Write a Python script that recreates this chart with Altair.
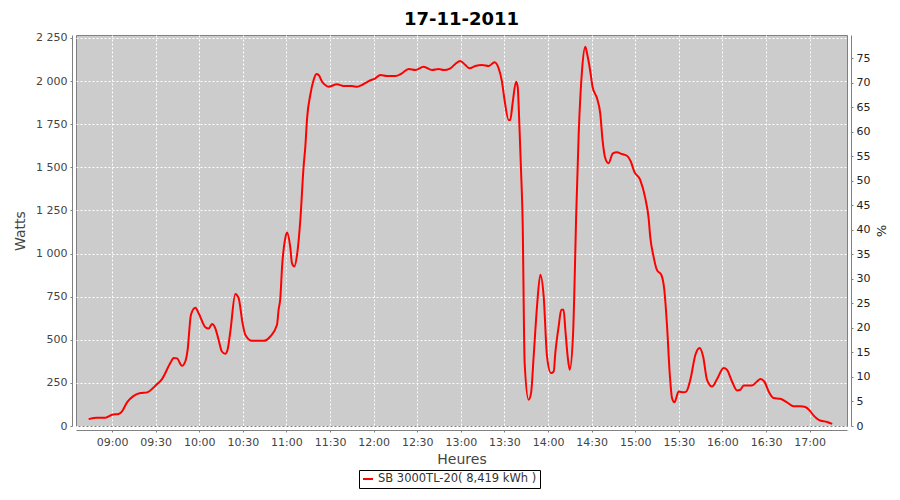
import altair as alt
import pandas as pd

# minutes after 09:00
minutes_after_9 = [
    -16.1, -10.3, -4.6, 0, 4.5, 6.9, 10.3, 14.9, 19.5, 24.1, 30, 34.4, 40.1, 42.4, 44.7,
    48.1, 50.4, 52, 54.3, 57.3, 59.6, 64.2, 66.5, 68.8, 71, 73.3, 75.6, 77.9, 79.5, 81.4,
    84.8, 87.1, 89.8, 91.7, 96.3, 104.3, 108.9, 113.5, 114.6, 115.8, 117, 119.2, 120.4,
    122.7, 123.8, 125.4, 127.3, 129.6, 131.8, 133, 134.2, 136.4, 138.7, 140.6, 142.2,
    144.5, 146.7, 149, 154.8, 159.3, 165.1, 168.6, 172, 176.6, 181.2, 184.6, 189.2, 194.9,
    199.5, 204.1, 208.7, 214.4, 220.2, 224.7, 228.2, 232.8, 236.2, 239.6, 243.1, 246,
    249.9, 254.6, 259.1, 263.2, 266, 268.3, 269.9, 272.9, 274, 275.6, 278, 279.1, 280.4,
    281.4, 282.5, 283.9, 286.6, 288.3, 290.1, 292.4, 294.7, 297, 299.3, 302, 303.9, 305,
    307.3, 309.1, 310.7, 311.9, 313.5, 314.9, 317.2, 318.3, 319.3, 321.1, 323.4, 325.6,
    326.8, 329.1, 330.6, 333.7, 335.9, 337.5, 339.4, 341.6, 344.6, 347.4, 350.8, 354.3,
    357, 359.3, 363.4, 366.9, 369.2, 370.3, 372.6, 374.9, 377.9, 380, 381.9, 383.7, 385.3,
    386.9, 389.9, 393.3, 395.2, 397.9, 401.4, 404.3, 406.7, 409.4, 412.9, 416.3, 420.8,
    423.1, 426.6, 430, 432.3, 434.6, 440.3, 443.8, 446.1, 448.8, 451.8, 455.2, 459.8,
    464.4, 469, 473.6, 477, 480.5, 482.8, 486.2, 492, 495.5,
]
watts = [
    40, 48, 48, 65, 70, 85, 137, 175, 191, 195, 235, 272, 365, 394, 392,
    349, 374, 442, 645, 685, 654, 573, 565, 591, 568, 500, 432, 419, 442, 548,
    766, 742, 597, 529, 494, 494, 519, 587, 674, 742, 925, 1089, 1122,
    1031, 944, 925, 992, 1200, 1504, 1620, 1784, 1919, 2006, 2041, 2035,
    1996, 1977, 1967, 1981, 1971, 1971, 1967, 1977, 2000, 2016, 2035, 2029, 2029,
    2045, 2070, 2064, 2083, 2064, 2070, 2064, 2074, 2099, 2116, 2093, 2074,
    2087, 2093, 2087, 2109, 2074, 1996, 1900, 1774, 1774, 1871, 1996, 1967, 1716,
    1485, 1195, 365, 152, 191, 403, 693, 877, 751, 403, 307, 316, 423,
    577, 674, 674, 558, 403, 326, 529, 848, 1205, 1697, 2064, 2199,
    2161, 2054, 1967, 1900, 1813, 1658, 1552, 1523, 1581, 1587, 1577, 1567,
    1533, 1475, 1427, 1321, 1205, 1098, 982, 905, 877, 790, 577, 307, 162,
    137, 200, 195, 200, 268, 413, 452, 403, 268, 229, 272, 336,
    326, 258, 206, 210, 235, 235, 258, 272, 258, 200, 162, 158,
    137, 114, 114, 110, 85, 60, 36, 23, 12,
]
series_name = "SB 3000TL-20( 8,419 kWh )"
title_text = "17-11-2011"

df = pd.DataFrame({
    "t": [540 + m for m in minutes_after_9],
    "W": watts,
    "serie": series_name,
})

x_domain = [515.2, 1045.7]
y_domain = [0, 2267]
pct_domain = [0, 79.7]
x_ticks = list(range(540, 1021, 30))

font = "DejaVu Sans"
axis_color = "#808080"
label_color = "#444444"

x = alt.X(
    "t:Q",
    scale=alt.Scale(domain=x_domain, nice=False, zero=False),
    axis=alt.Axis(
        title="Heures", values=x_ticks,
        labelExpr="(floor(datum.value/60) < 10 ? '0' : '') + floor(datum.value/60) + ':' + (datum.value % 60 < 10 ? '0' : '') + (datum.value % 60)",
        grid=True, gridColor="#ffffff", gridDash=[2, 2], gridWidth=1,
        domainColor=axis_color, tickColor=axis_color, tickSize=2, offset=4,
        labelFont=font, labelFontSize=11, labelColor=label_color, labelPadding=4,
        titleFont=font, titleFontSize=14, titleFontWeight="normal", titleColor=label_color,
        titlePadding=5,
    ),
)

line = alt.Chart(df).mark_line(strokeWidth=2, interpolate="monotone").encode(
    x=x,
    y=alt.Y(
        "W:Q",
        scale=alt.Scale(domain=y_domain, nice=False),
        axis=alt.Axis(
            title="Watts", values=list(range(0, 2251, 250)),
            labelExpr="replace(format(datum.value, ','), ',', ' ')",
            grid=True, gridColor="#ffffff", gridDash=[2, 2], gridWidth=1,
            domainColor=axis_color, tickColor=axis_color, tickSize=2, offset=4,
            labelFont=font, labelFontSize=11, labelColor=label_color, labelPadding=3,
            titleFont=font, titleFontSize=14, titleFontWeight="normal", titleColor=label_color,
            titlePadding=8,
        ),
    ),
    color=alt.Color(
        "serie:N",
        scale=alt.Scale(domain=[series_name], range=["#ff0000"]),
        legend=alt.Legend(
            title=None, orient="none", legendX=283, legendY=435,
            strokeColor="#000000", padding=3, fillColor="#ffffff",
            symbolType="stroke", symbolStrokeWidth=2, symbolSize=100,
            labelFont=font, labelFontSize=11.5, labelColor="#333333",
            labelLimit=400,
        ),
    ),
)

# right axis (percent), invisible helper layer
pct_df = pd.DataFrame({"t": [x_domain[0]], "p": [0]})
right = alt.Chart(pct_df).mark_point(opacity=0).encode(
    x=x,
    y=alt.Y(
        "p:Q",
        scale=alt.Scale(domain=pct_domain, nice=False),
        axis=alt.Axis(
            orient="right", title="%", values=list(range(0, 76, 5)),
            grid=False, domainColor=axis_color, tickColor=axis_color, tickSize=2, offset=4,
            labelFont=font, labelFontSize=11, labelColor="#222222", labelPadding=3,
            titleFont=font, titleFontSize=13, titleFontWeight="normal", titleColor="#222222",
            titlePadding=4,
        ),
    ),
)

chart = alt.layer(line, right).resolve_scale(y="independent").properties(
    width=771,
    height=391,
    background="#ffffff",
    title=alt.TitleParams(
        title_text, font=font, fontSize=18, fontWeight="bold", color="#000000",
        anchor="middle", offset=3,
    ),
    autosize=alt.AutoSizeParams(type="none"),
    padding={"left": 68, "top": 27, "right": 45, "bottom": 65},
).configure_view(
    fill="#cccccc", stroke=axis_color, strokeWidth=1,
)

chart.save("out.html", embed_options={"renderer": "svg", "actions": False})
